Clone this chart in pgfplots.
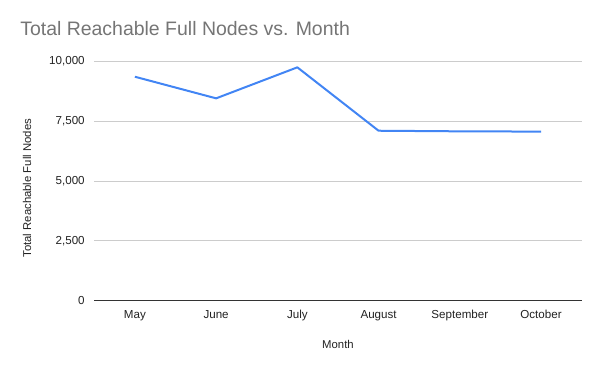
\documentclass[border=0pt]{standalone}
\usepackage{fontspec}
\setmainfont{Liberation Sans}
\usepackage{pgfplots}
\pgfplotsset{compat=1.18}
\definecolor{gline}{HTML}{4285F4}
\definecolor{gridc}{HTML}{CCCCCC}
\definecolor{titlec}{HTML}{757575}
\definecolor{txt}{HTML}{222222}
\definecolor{axc}{HTML}{333333}
\begin{document}
\begin{tikzpicture}
\useasboundingbox (0,0) rectangle (450pt,278.25pt);
\node[anchor=base west, inner sep=0pt, text=titlec, font=\fontsize{14.6pt}{17pt}\selectfont] at (15pt,251.25pt) {Total Reachable Full Nodes vs. Month};
\begin{axis}[
  at={(70.7pt,52.7pt)}, anchor=south west,
  scale only axis, width=365.55pt, height=179.55pt,
  xmin=-0.5, xmax=5.5, ymin=0, ymax=10000,
  scaled y ticks=false,
  xtick={0,1,2,3,4,5},
  xticklabels={May,June,July,August,September,October},
  ytick={0,2500,5000,7500,10000},
  yticklabels={0,{2,500},{5,000},{7,500},{10,000}},
  axis lines*=left,
  x axis line style={draw=axc, line width=0.75pt},
  y axis line style={draw=none},
  major tick length=0pt,
  ymajorgrids, grid style={gridc, line width=0.75pt},
  tick label style={font=\fontsize{8.7pt}{10pt}\selectfont, text=txt},
  xticklabel style={anchor=base, yshift=-13.2pt, inner sep=0pt},
  yticklabel style={anchor=east, inner sep=0pt, xshift=-7pt},
  xlabel={Month},
  ylabel={Total Reachable Full Nodes},
  label style={font=\fontsize{8.5pt}{10pt}\selectfont, text=txt},
  xlabel style={at={(axis description cs:0.5,0)}, anchor=base, yshift=-36.2pt, inner sep=0pt},
  ylabel style={at={(axis description cs:-0.138,0.47)}, anchor=center, inner sep=0pt},
  clip=false,
]
\addplot[gline, line width=1.5pt, line join=round, mark=none] coordinates {
  (0,9357) (1,8454) (2,9749) (3,7101) (4,7076) (5,7065)
};
\end{axis}
\end{tikzpicture}
\end{document}
